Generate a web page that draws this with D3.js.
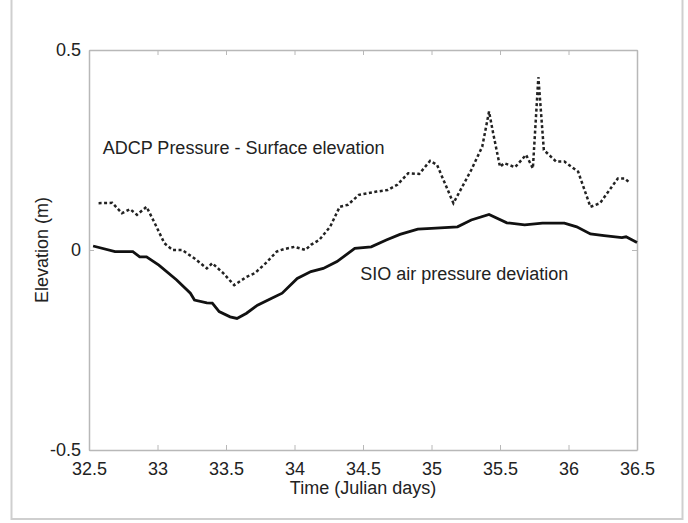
<!DOCTYPE html>
<html>
<head>
<meta charset="utf-8">
<script src="https://cdn.jsdelivr.net/npm/d3@7"></script>
<style>
  body { margin: 0; background: #fff; }
  text { font-family: "Liberation Sans", Arial, sans-serif; fill: #222; }
</style>
</head>
<body>
<div id="chart"></div>
<script>
var svgWidth = 688;
var svgHeight = 523;

var margin = { top: 50, right: 51, bottom: 73, left: 89 };
var width = svgWidth - margin.left - margin.right;
var height = svgHeight - margin.top - margin.bottom;

// ADCP pressure - surface elevation (dashed)
var adcpDays = [32.57, 32.67, 32.74, 32.80, 32.85, 32.92, 32.98, 33.05, 33.11, 33.18,
  33.27, 33.36, 33.40, 33.48, 33.56, 33.65, 33.71, 33.79, 33.87, 33.92,
  34.00, 34.08, 34.12, 34.18, 34.26, 34.33, 34.39, 34.47, 34.60, 34.68,
  34.75, 34.83, 34.91, 34.99, 35.04, 35.16, 35.29, 35.37, 35.42, 35.45,
  35.50, 35.53, 35.61, 35.69, 35.74, 35.78, 35.82, 35.91, 35.97, 36.07,
  36.16, 36.23, 36.36, 36.41, 36.45];
var adcpElev = [0.117, 0.118, 0.092, 0.102, 0.088, 0.108, 0.067, 0.017, 0.0, 0.0,
  -0.021, -0.046, -0.033, -0.058, -0.088, -0.067, -0.058, -0.033, -0.004, 0.002,
  0.008, 0.0, 0.013, 0.025, 0.058, 0.108, 0.113, 0.138, 0.146, 0.15,
  0.163, 0.192, 0.19, 0.223, 0.213, 0.117, 0.2, 0.258, 0.346, 0.292,
  0.208, 0.217, 0.207, 0.238, 0.204, 0.432, 0.25, 0.221, 0.221, 0.196,
  0.108, 0.117, 0.179, 0.179, 0.167];

// SIO air pressure deviation (solid)
var sioDays = [32.53, 32.69, 32.82, 32.87, 32.92, 33.01, 33.14, 33.24, 33.27, 33.36,
  33.40, 33.45, 33.53, 33.58, 33.65, 33.73, 33.83, 33.91, 34.02, 34.12,
  34.21, 34.31, 34.44, 34.56, 34.67, 34.77, 34.90, 35.00, 35.19, 35.29,
  35.42, 35.55, 35.68, 35.81, 35.97, 36.06, 36.16, 36.26, 36.39, 36.42, 36.50];
var sioElev = [0.010, -0.004, -0.004, -0.017, -0.017, -0.038, -0.075, -0.108, -0.125, -0.132,
  -0.133, -0.154, -0.167, -0.171, -0.158, -0.138, -0.121, -0.108, -0.071, -0.054,
  -0.046, -0.029, 0.004, 0.008, 0.025, 0.039, 0.052, 0.054, 0.058, 0.075,
  0.089, 0.068, 0.063, 0.067, 0.067, 0.058, 0.040, 0.036, 0.031, 0.033, 0.019];

var xTicks = [32.5, 33, 33.5, 34, 34.5, 35, 35.5, 36, 36.5];
var yTicks = [-0.5, 0, 0.5];

var svg = d3.select("#chart")
  .append("svg")
  .attr("width", svgWidth)
  .attr("height", svgHeight);

// light frame round the figure
svg.append("rect")
  .attr("x", 11.5)
  .attr("y", -2)
  .attr("width", 671)
  .attr("height", 521)
  .attr("fill", "none")
  .attr("stroke", "#cfcfcf")
  .attr("stroke-width", 2);

var chartGroup = svg.append("g")
  .attr("transform", `translate(${margin.left}, ${margin.top})`);

var x = d3.scaleLinear().domain([32.5, 36.5]).range([0, width]);
var y = d3.scaleLinear().domain([-0.5, 0.5]).range([height, 0]);

var fmt = d => String(d);

// axes, ticks pointing inward like matlab
var bottomAxis = d3.axisBottom(x).tickValues(xTicks).tickFormat(fmt).tickSizeInner(-5).tickSizeOuter(0).tickPadding(12);
var topAxis = d3.axisTop(x).tickValues(xTicks).tickFormat("").tickSizeInner(-5).tickSizeOuter(0);
var leftAxis = d3.axisLeft(y).tickValues(yTicks).tickFormat(fmt).tickSizeInner(-5).tickSizeOuter(0).tickPadding(8);
var rightAxis = d3.axisRight(y).tickValues(yTicks).tickFormat("").tickSizeInner(-5).tickSizeOuter(0);

var gb = chartGroup.append("g").attr("transform", `translate(0, ${height})`).call(bottomAxis);
var gt = chartGroup.append("g").call(topAxis);
var gl = chartGroup.append("g").call(leftAxis);
var gr = chartGroup.append("g").attr("transform", `translate(${width}, 0)`).call(rightAxis);

[gb, gt, gl, gr].forEach(function(g) {
  g.select(".domain").attr("stroke", "#b8b8b8").attr("stroke-width", 1.5);
  g.selectAll(".tick line").attr("stroke", "#b8b8b8");
  g.selectAll("text").attr("font-size", "18px").attr("fill", "#222");
});

var adcpData = adcpDays.map((d, i) => [d, adcpElev[i]]);
var sioData = sioDays.map((d, i) => [d, sioElev[i]]);

var line = d3.line().x(d => x(d[0])).y(d => y(d[1]));

chartGroup.append("path")
  .datum(adcpData)
  .attr("d", line)
  .attr("fill", "none")
  .attr("stroke", "#222")
  .attr("stroke-width", 2.5)
  .attr("stroke-dasharray", "3,2.5");

chartGroup.append("path")
  .datum(sioData)
  .attr("d", line)
  .attr("fill", "none")
  .attr("stroke", "#111")
  .attr("stroke-width", 2.8);

// annotations
chartGroup.append("text")
  .attr("x", x(32.6))
  .attr("y", y(0.255))
  .attr("dy", "0.35em")
  .attr("font-size", "18px")
  .text("ADCP Pressure - Surface elevation");

chartGroup.append("text")
  .attr("x", x(34.48))
  .attr("y", y(-0.058))
  .attr("dy", "0.35em")
  .attr("font-size", "18px")
  .text("SIO air pressure deviation");

// axis labels
chartGroup.append("text")
  .attr("transform", "rotate(-90)")
  .attr("x", -height / 2)
  .attr("y", -margin.left + 42)
  .attr("dy", "0.35em")
  .attr("text-anchor", "middle")
  .attr("font-size", "18px")
  .text("Elevation (m)");

chartGroup.append("text")
  .attr("x", width / 2)
  .attr("y", height + 38)
  .attr("dy", "0.35em")
  .attr("text-anchor", "middle")
  .attr("font-size", "18px")
  .text("Time (Julian days)");
</script>
</body>
</html>
